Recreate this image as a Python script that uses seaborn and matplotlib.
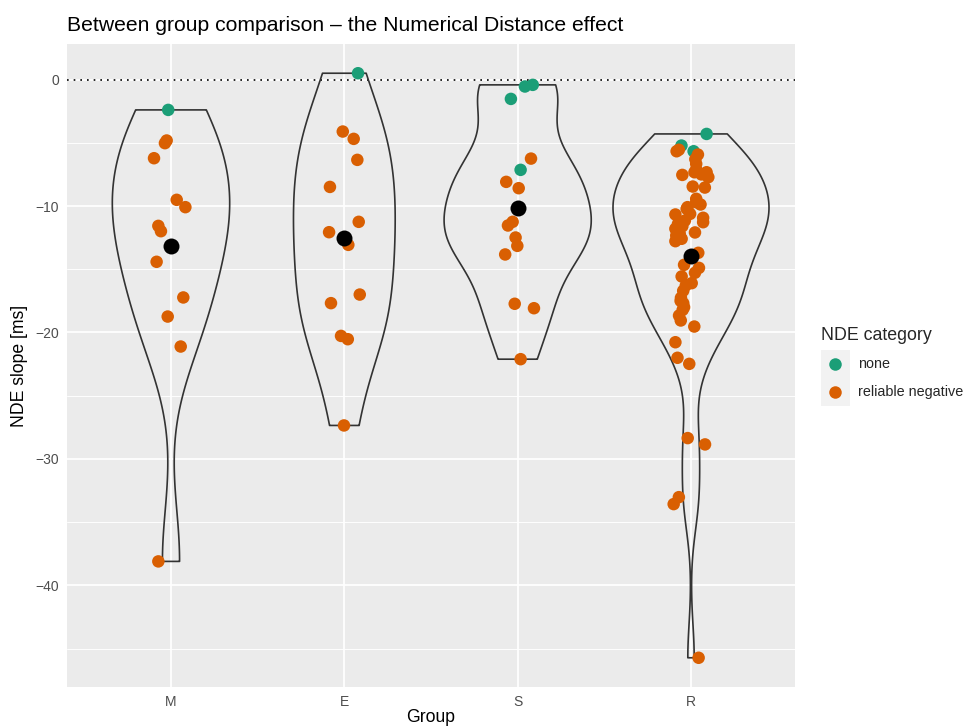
import numpy as np
import pandas as pd
import matplotlib
matplotlib.use("Agg")
import matplotlib.pyplot as plt
import seaborn as sns
from matplotlib.lines import Line2D
from matplotlib.patches import Rectangle
from matplotlib.legend_handler import HandlerBase
from matplotlib.ticker import FixedLocator

# ---------------- data ----------------
groups = ["M", "E", "S", "R"]
categories = ["none", "reliable negative"]
palette = ["#1B9E77", "#D95F02"]

m_values = [-2.40, -4.82, -5.03, -6.22, -9.51, -10.09, -11.57, -11.99, -14.41,
            -17.23, -18.74, -21.11, -38.10]
m_cat = ["none"] + ["reliable negative"] * 12
m_jitter = [-0.016, -0.025, -0.035, -0.098, 0.033, 0.083, -0.073, -0.058, -0.083,
            0.071, -0.019, 0.056, -0.073]

e_values = [0.50, -4.11, -4.69, -6.35, -8.49, -11.25, -12.07, -13.07, -17.00,
            -17.68, -20.27, -20.53, -27.35]
e_cat = ["none"] + ["reliable negative"] * 12
e_jitter = [0.079, -0.009, 0.054, 0.075, -0.083, 0.083, -0.088, 0.023, 0.089,
            -0.077, -0.019, 0.020, -0.002]

s_values = [-0.42, -0.55, -1.53, -6.25, -7.14, -8.09, -8.59, -11.25, -11.54,
            -12.49, -13.15, -13.83, -17.73, -18.08, -22.11]
s_cat = ["none", "none", "none", "reliable negative", "none"] + ["reliable negative"] * 10
s_jitter = [0.087, 0.042, -0.039, 0.077, 0.017, -0.066, 0.006, -0.029, -0.056,
            -0.012, -0.002, -0.072, -0.017, 0.094, 0.017]

r_values = [-4.30, -5.22, -5.67,
            -5.67, -5.55, -5.93, -6.30, -6.67, -7.10, -7.33, -7.33, -7.72, -7.54,
            -7.50, -8.46, -8.54, -9.43, -9.88, -9.70, -10.09, -10.22, -10.62, -10.67,
            -10.93, -11.28, -11.15, -11.41, -11.80, -11.60, -12.09, -12.33, -12.59,
            -12.78, -12.20, -13.70, -14.65, -14.89, -15.28, -15.57, -16.10, -16.28,
            -16.70, -17.26, -17.50, -17.68, -18.00, -18.21, -18.66, -19.05, -19.53,
            -20.77, -22.00, -22.48, -28.35, -28.85, -33.02, -33.57, -45.72]
r_cat = ["none"] * 3 + ["reliable negative"] * 55
r_jitter = [0.090, -0.055, 0.015,
            -0.083, -0.070, 0.040, 0.025, 0.030, 0.030, 0.020, 0.090, 0.100, -0.050,
            0.060, 0.010, 0.080, 0.030, 0.055, 0.030, -0.020, -0.025, -0.005, -0.090,
            0.070, 0.070, -0.035, -0.075, -0.090, -0.050, 0.023, -0.085, -0.054,
            -0.090, -0.065, 0.042, -0.040, 0.046, 0.023, -0.054, 0.004, -0.030,
            -0.045, -0.058, -0.060, -0.045, -0.040, -0.048, -0.069, -0.059, 0.019,
            -0.090, -0.078, -0.010, -0.019, 0.081, -0.070, -0.100, 0.044]

df = pd.concat([
    pd.DataFrame({"group": g, "value": v, "category": c, "jitter": j})
    for g, v, c, j in [("M", m_values, m_cat, m_jitter),
                       ("E", e_values, e_cat, e_jitter),
                       ("S", s_values, s_cat, s_jitter),
                       ("R", r_values, r_cat, r_jitter)]
], ignore_index=True)
df["xpos"] = df["group"].map({g: i for i, g in enumerate(groups)}) + df["jitter"]


def nrd0(kde):
    x = np.asarray(kde.dataset).ravel()
    n = len(x)
    sd = np.std(x, ddof=1)
    iqr = np.subtract(*np.percentile(x, [75, 25]))
    lo = min(sd, iqr / 1.34)
    return 0.9 * lo * n ** (-0.2) / sd


class KeyHandler(HandlerBase):
    """ggplot-like legend key: grey square with a centred point."""

    def create_artists(self, legend, orig_handle, xdescent, ydescent,
                       width, height, fontsize, trans):
        bg = Rectangle((-xdescent, -ydescent), width, height,
                       facecolor="#F2F2F2", edgecolor="none", transform=trans)
        dot = Line2D([-xdescent + width / 2], [-ydescent + height / 2],
                     marker="o", linestyle="none",
                     color=orig_handle.get_color(),
                     markersize=orig_handle.get_markersize(),
                     markeredgewidth=0, transform=trans)
        return [bg, dot]


# ---------------- plotting ----------------
sns.set_style("white")
plt.rcParams["font.family"] = ["Liberation Sans", "DejaVu Sans"]

W, H = 964, 727
fig = plt.figure(figsize=(W / 100, H / 100), dpi=100)
pl, pr, pt, pb = 67, 795, 44, 687
ax = fig.add_axes([pl / W, 1 - pb / H, (pr - pl) / W, (pb - pt) / H])
ax.set_facecolor("#EBEBEB")

sns.violinplot(data=df, x="group", y="value", order=groups, cut=0,
               density_norm="area", width=0.9, fill=False, inner=None,
               color="#333333", linewidth=1.2, bw_method=nrd0, gridsize=512,
               ax=ax, zorder=2)

sns.scatterplot(data=df, x="xpos", y="value", hue="category",
                hue_order=categories, palette=palette, s=81, linewidth=0,
                legend=False, ax=ax, zorder=3)

sns.pointplot(data=df, x="group", y="value", order=groups, estimator="mean",
              errorbar=None, color="black", linestyle="none", marker="o",
              markersize=11.5, markeredgewidth=0, ax=ax, zorder=4)

ax.axhline(0, color="black", linestyle=(0, (1, 3)), linewidth=1.2, zorder=1.5)

# scales
vmin, vmax = df["value"].min(), df["value"].max()
span = vmax - vmin
ax.set_ylim(vmin - 0.05 * span, vmax + 0.05 * span)
ax.set_xlim(-0.6, len(groups) - 1 + 0.6)
ax.set_xticks(range(len(groups)))
ax.set_xticklabels(groups)
ax.set_yticks([0, -10, -20, -30, -40])
ax.yaxis.set_minor_locator(FixedLocator([-45, -35, -25, -15, -5]))

ax.set_axisbelow(True)
ax.grid(which="major", axis="both", color="white", linewidth=1.25)
ax.grid(which="minor", axis="y", color="white", linewidth=0.65)
for s in ax.spines.values():
    s.set_visible(False)

ax.tick_params(axis="both", which="major", length=3.2, width=0.8,
               color="#333333", labelcolor="#4D4D4D", labelsize=10, pad=2.5)
ax.tick_params(axis="both", which="minor", length=0)

ax.set_title("Between group comparison \u2013 the Numerical Distance effect",
             loc="left", fontsize=15.2, pad=9.5, color="black")
ax.set_xlabel("Group", fontsize=12.7, color="black", va="center")
ax.set_ylabel("NDE slope [ms]", fontsize=12.7, color="black", va="center")
ax.xaxis.set_label_coords(0.5, (pb - 718) / (pb - pt))
ax.yaxis.set_label_coords((20 - pl) / (pr - pl), 0.5)

# legend
handles = [Line2D([], [], marker="o", color=col, linestyle="none", markersize=9)
           for col in palette]
leg = fig.legend(handles=handles, labels=categories,
                 handler_map={Line2D: KeyHandler()},
                 loc="center left", bbox_to_anchor=(821 / W, 1 - 366.5 / H),
                 frameon=False, title="NDE category", title_fontsize=12.8,
                 fontsize=10.4, handlelength=2.0, handleheight=2.61,
                 handletextpad=0.55, labelspacing=0, borderpad=0,
                 borderaxespad=0, alignment="left", numpoints=1)
leg._legend_box.sep = 4.3

fig.savefig("out.png", dpi=100)
